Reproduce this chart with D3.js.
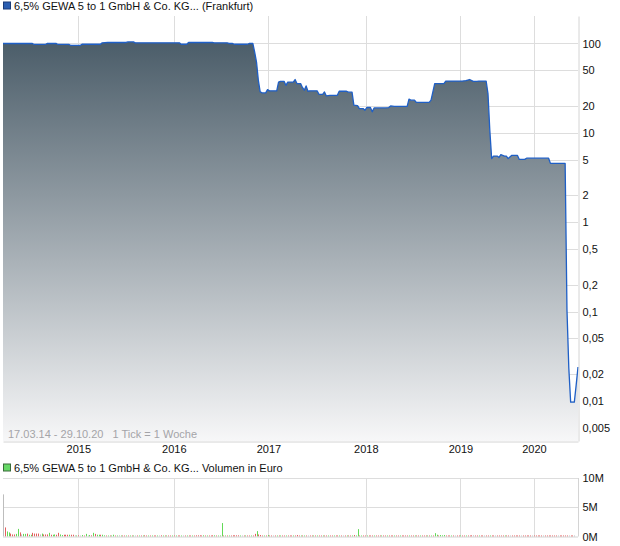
<!DOCTYPE html>
<html>
<head>
<meta charset="utf-8">
<script src="https://cdn.jsdelivr.net/npm/d3@7/dist/d3.min.js"></script>
<style>
  body { margin: 0; background: #fff; }
  svg text { font-family: "Liberation Sans", Arial, sans-serif; font-size: 11px; }
</style>
</head>
<body>
<script>
// Chart data (1 tick = 1 week, from 17.03.14 to 29.10.20)
const LAST_TICK = 313;

// year labels and the tick where each year starts
const yearLabels = ['2015', '2016', '2017', '2018', '2019', '2020'];
const yearTicks = [41, 93, 144.5, 197.5, 249, 289];

// price (in %), key points
const priceTicks = [
  0, 16, 17, 23, 24, 29, 30, 36, 37, 42,
  43, 53, 54, 57, 67, 68, 71, 72, 96, 97,
  100, 101, 114, 115, 122, 123, 125, 126, 133, 134,
  136, 137, 138, 139, 140, 141, 143, 144, 145, 149,
  150, 151, 153, 154, 155, 158, 159, 160, 162, 163,
  164, 165, 166, 167, 171, 172, 174, 175, 176, 178,
  182, 183, 187, 188, 190, 191, 193, 194, 196, 197,
  198, 200, 201, 202, 208, 210, 211, 213, 220, 221,
  222, 224, 225, 232, 233, 234, 235, 240, 241, 247,
  250, 252, 254, 256, 258, 259, 263, 264, 265, 266,
  267, 269, 270, 271, 273, 274, 275, 277, 280, 281,
  284, 285, 297, 298, 306, 307, 308, 309, 311, 312,
  313
];
const priceValues = [
  100, 100, 97.5, 97.5, 100, 100, 97.5, 97.5, 95, 95,
  98, 98, 101.6, 102.6, 102.6, 104, 104, 101.6, 101.6, 98,
  98, 102.6, 102.6, 101.6, 101.6, 100, 100, 98, 98, 100,
  100, 80, 62, 38.7, 28.8, 28, 28, 30.5, 29.5, 29.5,
  37, 37.7, 37.7, 34, 37, 37, 39.5, 35.6, 35.6, 32.2,
  30, 33.5, 29.2, 29.5, 29.5, 27, 27, 28.7, 25.9, 26.3,
  26.3, 29.2, 29.2, 28.5, 28.5, 20.4, 20.2, 18.7, 18.7, 17.9,
  19.2, 19.2, 17.2, 19, 19, 19.2, 20, 19.8, 19.8, 23.8,
  23.2, 23.2, 21.9, 21.9, 23.2, 28.7, 35.6, 35.6, 38, 38,
  38, 38.5, 39.5, 37.7, 37.7, 38, 38, 27.5, 10.7, 5.16,
  5.5, 5.5, 5.3, 5.7, 5.5, 5.5, 5.16, 5.6, 5.6, 5.05,
  5.05, 5.2, 5.2, 4.55, 4.55, 0.104, 0.0233, 0.0097, 0.0097, 0.015,
  0.024
];

// weekly volume in 10.000 EUR and direction (g = up, r = down, n = unchanged)
const volume = [
  720, 155, 86, 70, 50, 35, 35, 45, 130, 70, 35, 45, 45, 50, 30, 30, 63, 50, 50, 50,
  35, 50, 35, 35, 35, 63, 30, 30, 35, 30, 63, 35, 25, 30, 30, 30, 30, 30, 30, 20,
  15, 20, 15, 25, 15, 45, 15, 25, 20, 63, 45, 30, 30, 30, 30, 20, 15, 15, 15, 15,
  30, 15, 15, 20, 15, 15, 15, 15, 15, 15, 15, 15, 15, 15, 15, 15, 15, 20, 15, 15,
  15, 15, 15, 15, 15, 15, 20, 15, 15, 15, 15, 15, 15, 15, 15, 15, 15, 15, 15, 15,
  15, 15, 15, 15, 15, 20, 20, 20, 15, 20, 15, 15, 15, 15, 20, 20, 15, 15, 15, 230,
  15, 15, 15, 15, 15, 20, 20, 20, 20, 15, 15, 15, 15, 15, 15, 15, 15, 45, 92, 35,
  25, 15, 15, 15, 25, 15, 15, 15, 15, 15, 15, 15, 15, 15, 15, 15, 15, 15, 15, 15,
  25, 15, 15, 15, 15, 15, 15, 15, 15, 15, 15, 15, 15, 15, 15, 15, 15, 15, 15, 15,
  15, 15, 15, 15, 15, 15, 15, 15, 15, 15, 15, 25, 15, 126, 15, 15, 15, 15, 15, 15,
  15, 15, 15, 15, 15, 15, 15, 15, 15, 15, 15, 15, 15, 15, 15, 15, 15, 15, 15, 15,
  15, 15, 15, 15, 15, 15, 15, 15, 15, 15, 15, 15, 15, 15, 15, 57, 30, 15, 25, 20,
  25, 15, 15, 15, 15, 15, 15, 15, 15, 15, 15, 15, 15, 15, 15, 20, 20, 15, 15, 15,
  10, 10, 10, 10, 15, 15, 10, 10, 10, 15, 10, 10, 10, 10, 15, 10, 10, 10, 10, 10,
  10, 10, 10, 15, 10, 10, 10, 10, 10, 10, 10, 15, 10, 10, 10, 10, 10, 10, 10, 10,
  10, 10, 10, 10, 10, 10, 10, 15, 15, 10, 10, 15
];
const volumeDir =
  'nrggrrrggrnggrggrrrr' + 'ngrrrgrggrrggrrrgrrn' + 'grngrgngrgrggrggrgrg' +
  'grgngrrgrgrgnrgrgrrg' + 'rgrrgnrgrgrrgrgrrgnr' + 'grrgrrrrrgrgrrrgrggg' +
  'rgrgrrrrrgnrgrrgrrgr' + 'rrgrgrrnrgrgrrgrrrgr' + 'rrgrgrnrrgrgrrgrrgrr' +
  'grrgrnrgrrgrggrgrrgr' + 'rrgrrrgrrgrrrgrrgrrr' + 'rgrrgrrgrrrgrgrggrgg' +
  'grrrgrnrrgrrgrrrnrrg' + 'rrnrrgrrnrrrrgrrnrrr' + 'rrnrrrrrnrrrrrnrrrrr' +
  'rrnrrrrrnrrn';

const priceTickValues = [100, 50, 20, 10, 5, 2, 1, 0.5, 0.2, 0.1, 0.05, 0.02, 0.01, 0.005];
const volTickValues = [0, 5e6, 10e6];
const volTickLabels = ['0M', '5M', '10M'];

// Layout
const WIDTH = 620;
const HEIGHT = 546;
const PLOT = {left: 3, right: 578, top: 16, bottom: 441};
const VOL = {top: 478, bottom: 536.5};
const GRID = '#dddddd';

const svg = d3.select('body')
  .append('svg')
  .attr('width', WIDTH)
  .attr('height', HEIGHT);

// Scales
const x = d3.scaleLinear().domain([0, LAST_TICK]).range([PLOT.left, PLOT.right]);
const y = d3.scaleLog().domain([0.00356, 203]).range([PLOT.bottom, PLOT.top]);
const yv = d3.scaleLinear().domain([0, 10e6]).range([VOL.bottom, VOL.top]);

const prices = priceTicks.map((t, i) => ({t: t, v: priceValues[i]}));
const volumes = volume.map((v, i) => ({t: i, v: v * 1e4, dir: volumeDir[i] || 'n'}));

const comma = v => String(v).replace('.', ',');

// Legend boxes
function legendItem(yPos, fill, stroke, label) {
  svg.append('rect')
    .attr('x', 3.5).attr('y', yPos - 3.5)
    .attr('width', 7).attr('height', 7)
    .attr('fill', fill).attr('stroke', stroke);
  svg.append('text')
    .attr('x', 14).attr('y', yPos + 4)
    .attr('fill', '#111')
    .text(label);
}
legendItem(5.5, '#2a5db0', '#1a3b78', '6,5% GEWA 5 to 1 GmbH & Co. KG... (Frankfurt)');
legendItem(467.5, '#66d866', '#3a6a3a', '6,5% GEWA 5 to 1 GmbH & Co. KG... Volumen in Euro');

// Gradient for the area
const grad = svg.append('defs').append('linearGradient')
  .attr('id', 'fillGrad')
  .attr('gradientUnits', 'userSpaceOnUse')
  .attr('x1', 0).attr('x2', 0)
  .attr('y1', PLOT.top).attr('y2', PLOT.bottom);
grad.append('stop').attr('offset', 0).attr('stop-color', '#405360');
grad.append('stop').attr('offset', 1).attr('stop-color', '#f7f7f8');

// Grid lines (price panel)
svg.append('g').selectAll('line.hgrid')
  .data(priceTickValues)
  .enter().append('line')
  .attr('x1', PLOT.left).attr('x2', PLOT.right)
  .attr('y1', d => Math.round(y(d)) + 0.5)
  .attr('y2', d => Math.round(y(d)) + 0.5)
  .attr('stroke', GRID);

svg.append('g').selectAll('line.vgrid')
  .data(yearTicks)
  .enter().append('line')
  .attr('x1', d => Math.round(x(d)) + 0.5)
  .attr('x2', d => Math.round(x(d)) + 0.5)
  .attr('y1', PLOT.top).attr('y2', PLOT.bottom)
  .attr('stroke', GRID);

// Area + line
const area = d3.area()
  .x(d => x(d.t))
  .y0(PLOT.bottom)
  .y1(d => y(d.v));

const line = d3.line()
  .x(d => x(d.t))
  .y(d => y(d.v));

svg.append('path')
  .datum(prices)
  .attr('d', area)
  .attr('fill', 'url(#fillGrad)');

svg.append('path')
  .datum(prices)
  .attr('d', line)
  .attr('fill', 'none')
  .attr('stroke', '#1f5fc6')
  .attr('stroke-width', 1.3)
  .attr('stroke-linejoin', 'round');

// Range info
svg.append('text')
  .attr('x', 8).attr('y', 438)
  .attr('fill', '#a4a4a8')
  .style('white-space', 'pre')
  .text('17.03.14 - 29.10.20   1 Tick = 1 Woche');

// Axes for price panel
const yAxis = d3.axisRight(y)
  .tickValues(priceTickValues)
  .tickFormat(comma)
  .tickSize(0)
  .tickPadding(4);
const yAxisG = svg.append('g')
  .attr('transform', 'translate(' + (PLOT.right + 0.5) + ',0)')
  .call(yAxis);

const xAxis = d3.axisBottom(x)
  .tickValues(yearTicks)
  .tickFormat((d, i) => yearLabels[i])
  .tickSize(0)
  .tickPadding(4);
const xAxisG = svg.append('g')
  .attr('transform', 'translate(0,' + (PLOT.bottom + 0.5) + ')')
  .call(xAxis);

// Volume panel grid
svg.append('g').selectAll('line')
  .data(volTickValues.slice(1))
  .enter().append('line')
  .attr('x1', PLOT.left).attr('x2', PLOT.right)
  .attr('y1', d => Math.round(yv(d)) + 0.5)
  .attr('y2', d => Math.round(yv(d)) + 0.5)
  .attr('stroke', GRID);

svg.append('g').selectAll('line')
  .data(yearTicks)
  .enter().append('line')
  .attr('x1', d => Math.round(x(d)) + 0.5)
  .attr('x2', d => Math.round(x(d)) + 0.5)
  .attr('y1', VOL.top).attr('y2', VOL.bottom)
  .attr('stroke', GRID);

// Volume bars
const barColor = {g: '#62d957', r: '#e35f5f', n: '#bdbdbd'};
svg.append('g').selectAll('rect')
  .data(volumes)
  .enter().append('rect')
  .attr('x', d => Math.round(x(d.t)))
  .attr('width', 1)
  .attr('y', d => Math.min(yv(d.v), VOL.bottom - 1))
  .attr('height', d => Math.max(1, VOL.bottom - yv(d.v)))
  .attr('fill', d => barColor[d.dir]);

const vAxis = d3.axisRight(yv)
  .tickValues(volTickValues)
  .tickFormat((d, i) => volTickLabels[i])
  .tickSize(0)
  .tickPadding(4);
const vAxisG = svg.append('g')
  .attr('transform', 'translate(' + (PLOT.right + 0.5) + ',0)')
  .call(vAxis);

// Styling
[yAxisG, xAxisG, vAxisG].forEach(g => {
  g.select('.domain').attr('stroke', '#d4d4d4');
  g.selectAll('text').attr('fill', '#111').style('font-size', '11px')
    .style('font-family', '"Liberation Sans", Arial, sans-serif');
});
vAxisG.select('.domain').remove();
svg.append('line')
  .attr('x1', PLOT.right + 0.5).attr('x2', PLOT.right + 0.5)
  .attr('y1', VOL.top).attr('y2', VOL.bottom)
  .attr('stroke', '#d4d4d4');
svg.append('line')
  .attr('x1', PLOT.left).attr('x2', PLOT.right)
  .attr('y1', VOL.bottom + 0.5).attr('y2', VOL.bottom + 0.5)
  .attr('stroke', '#d4d4d4');
</script>
</body>
</html>
